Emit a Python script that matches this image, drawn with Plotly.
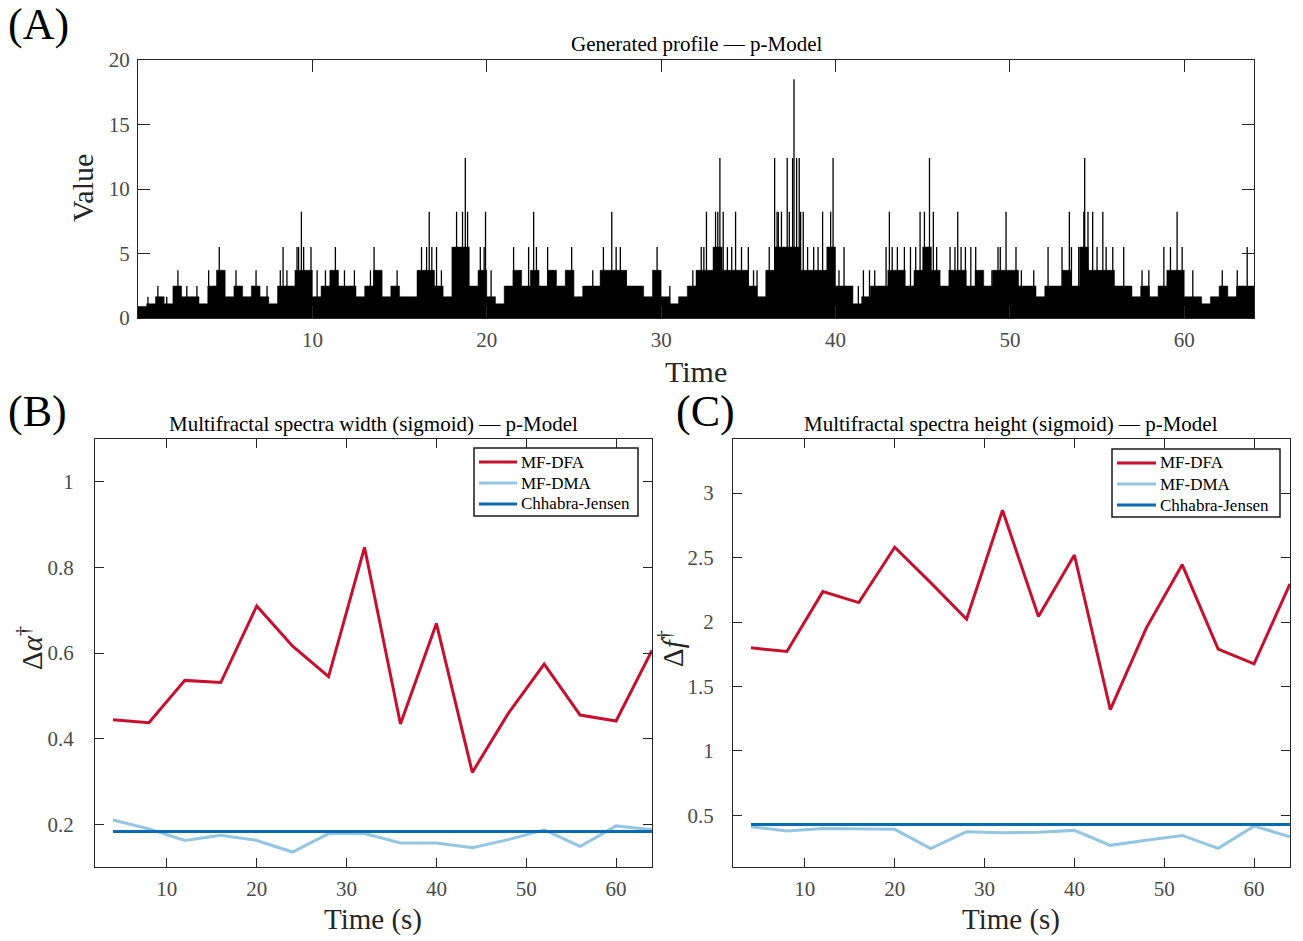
import plotly.graph_objects as go

W, H = 1303, 941

# ---------------- data ----------------
time_s = [4, 8, 12, 16, 20, 24, 28, 32, 36, 40, 44, 48, 52, 56, 60, 64]

width_mfdfa = [0.444, 0.437, 0.536, 0.531, 0.710, 0.616, 0.545, 0.847,
               0.434, 0.669, 0.321, 0.459, 0.574, 0.455, 0.441, 0.606]
width_mfdma = [0.210, 0.189, 0.162, 0.174, 0.162, 0.135, 0.178, 0.178,
               0.156, 0.156, 0.145, 0.164, 0.187, 0.148, 0.196, 0.187]
width_cj = [0.183, 0.183, 0.183, 0.183, 0.183, 0.183, 0.183, 0.183,
            0.183, 0.183, 0.183, 0.183, 0.183, 0.183, 0.183, 0.183]

height_mfdfa = [1.800, 1.772, 2.236, 2.151, 2.580, 2.306, 2.022, 2.868,
                2.043, 2.520, 1.320, 1.953, 2.445, 1.790, 1.676, 2.296]
height_mfdma = [0.413, 0.379, 0.399, 0.396, 0.392, 0.242, 0.374, 0.366,
                0.370, 0.384, 0.268, 0.307, 0.345, 0.245, 0.417, 0.335]
height_cj = [0.430, 0.430, 0.430, 0.430, 0.430, 0.430, 0.430, 0.430,
             0.430, 0.430, 0.430, 0.430, 0.430, 0.430, 0.430, 0.430]

series_names = ["MF-DFA", "MF-DMA", "Chhabra-Jensen"]

# generated profile: dense "body" level per 0.5 s bin
profile_bin = 0.5
profile_body = [
    0.9, 1.1, 1.65, 1.1, 2.48, 1.65, 1.65, 1.1, 2.48, 3.7, 1.65, 2.48, 1.65, 2.48, 1.65, 1.1,
    2.48, 2.48, 3.7, 3.7, 1.65, 2.48, 3.7, 2.48, 2.48, 1.65, 2.48, 3.7, 1.65, 2.48, 1.65, 1.65,
    3.7, 3.7, 2.48, 1.65, 5.5, 5.5, 2.48, 3.7, 1.65, 1.1, 2.48, 3.7, 2.48, 3.7, 2.48, 3.7,
    2.48, 3.7, 1.65, 2.48, 2.48, 3.7, 3.7, 3.7, 2.48, 2.48, 1.65, 3.7, 1.65, 1.1, 1.65, 2.48,
    3.7, 3.7, 5.5, 3.7, 3.7, 3.7, 2.48, 1.65, 3.7, 5.5, 5.5, 5.5, 3.7, 3.7, 3.7, 5.5,
    2.48, 2.48, 1.1, 1.65, 2.48, 2.48, 3.7, 3.7, 2.48, 3.7, 5.5, 3.7, 2.48, 3.7, 3.7, 2.48,
    3.7, 2.48, 3.7, 3.7, 3.7, 2.48, 2.48, 1.65, 2.48, 2.48, 3.7, 2.48, 5.5, 3.7, 3.7, 3.7,
    2.48, 2.48, 1.65, 2.48, 1.65, 2.48, 3.7, 3.7, 1.65, 1.65, 1.1, 1.65, 2.48, 1.65, 2.48, 2.48,
]

# individual spikes (time, peak value)
spike_t = [
    0.57, 1.14, 1.65, 2.29, 2.80, 3.38, 4.05, 4.66, 4.85, 5.62, 6.77, 7.40, 8.16, 8.32, 8.54,
    9.12, 9.21, 9.37, 9.50, 9.92, 10.27, 10.75, 11.32, 11.42, 11.84, 12.41, 13.33, 13.54,
    13.65, 14.86,
    16.26, 16.55, 16.70, 16.85, 17.12, 17.40, 18.27, 18.45, 18.61, 18.77, 18.90, 19.63,
    19.85, 19.93, 20.25, 21.54, 21.90, 22.40, 22.69, 22.85, 23.49, 23.75, 24.60, 24.87,
    26.08, 26.69, 27.17, 27.42, 27.66, 28.00, 29.60, 29.77, 30.50, 31.82, 32.10, 32.30,
    32.45, 32.60, 33.00, 33.12, 33.25, 33.37, 33.56, 33.80, 34.05, 34.27, 34.61, 35.00,
    35.30, 35.50, 36.20, 36.51, 36.65, 36.72, 36.90, 37.00, 37.23, 37.35, 37.54, 37.62,
    37.77, 37.92, 38.00, 38.15, 38.40, 38.75, 39.00, 39.26, 39.72, 39.86, 40.20, 40.49,
    41.31, 41.60, 41.95, 42.25, 42.90, 43.09, 43.25, 43.55, 43.95, 44.30, 44.60, 44.85,
    45.10, 45.39, 45.61, 45.80, 46.57, 46.85, 47.01, 47.20, 47.45, 47.76, 48.04,
    48.97, 49.32, 49.45, 49.78, 50.35, 50.66, 51.37, 52.19, 52.99, 53.41, 53.53, 53.95,
    54.24, 54.29, 54.48, 54.75, 55.00, 55.33, 55.52, 55.90, 56.53, 57.58, 57.97, 58.83,
    59.21, 59.59, 59.88, 60.49, 62.18, 63.04, 63.61,
]
spike_h = [
    1.65, 2.48, 1.65, 3.7, 2.48, 2.48, 3.7, 5.5, 3.7, 3.7, 3.7, 2.48, 3.7, 5.5, 3.7,
    5.5, 5.5, 8.24, 5.5, 5.5, 3.7, 3.7, 5.5, 3.7, 3.7, 3.7, 3.7, 5.5,
    3.7, 3.7,
    5.5, 5.5, 8.24, 5.5, 5.5, 3.7, 8.24, 5.5, 8.24, 12.4, 8.24, 5.5,
    5.5, 8.24, 3.7, 5.5, 3.7, 5.5, 8.24, 5.5, 5.5, 3.7, 3.7, 5.5,
    3.7, 5.5, 8.24, 5.5, 5.5, 3.7, 3.7, 5.5, 2.48, 3.7, 3.7, 5.5,
    5.5, 8.24, 5.5, 8.24, 8.24, 12.4, 8.24, 5.5, 5.5, 8.24, 5.5, 5.5,
    3.7, 3.7, 5.5, 12.4, 8.24, 8.24, 8.24, 5.5, 12.4, 8.24, 12.4, 18.5,
    12.4, 12.4, 8.24, 8.24, 5.5, 5.5, 5.5, 8.24, 8.24, 12.4, 3.7, 5.5,
    2.48, 3.7, 3.7, 3.7, 5.5, 8.24, 5.5, 5.5, 5.5, 5.5, 5.5, 8.24,
    8.24, 12.4, 8.24, 5.5, 5.5, 5.5, 8.24, 5.5, 5.5, 5.5, 5.5,
    3.7, 5.5, 5.5, 8.24, 5.5, 3.7, 3.7, 5.5, 5.5, 8.24, 5.5, 5.5,
    8.24, 12.4, 8.24, 8.24, 5.5, 8.24, 5.5, 5.5, 5.5, 3.7, 3.7, 5.5,
    5.5, 8.24, 5.5, 3.7, 3.7, 3.7, 5.5,
]

x_ticks_a = [10, 20, 30, 40, 50, 60]
y_ticks_a = [0, 5, 10, 15, 20]
x_ticks_bc = [10, 20, 30, 40, 50, 60]
y_ticks_b = [0.2, 0.4, 0.6, 0.8, 1.0]
y_ticklabels_b = ["0.2", "0.4", "0.6", "0.8", "1"]
y_ticks_c = [0.5, 1, 1.5, 2, 2.5, 3]
y_ticklabels_c = ["0.5", "1", "1.5", "2", "2.5", "3"]

# ---------------- styling ----------------
RED = "#C8102E"
LIGHT = "#93C6E2"
DARK = "#0B6CB3"
COLORS = [RED, LIGHT, DARK]
AX = "#262626"
FONT = "Liberation Serif"


def px(x):
    return x / W


def py(y):
    return 1 - y / H


fig = go.Figure()

# profile body (step fill)
body_x = [i * profile_bin for i in range(len(profile_body))] + [len(profile_body) * profile_bin]
body_y = profile_body + [profile_body[-1]]
fig.add_trace(go.Scatter(x=body_x, y=body_y, mode="lines", line=dict(color="black", width=0.5, shape="hv"),
                         fill="tozeroy", fillcolor="black", showlegend=False, xaxis="x", yaxis="y",
                         hoverinfo="skip"))
sx, sy = [], []
for t, h in zip(spike_t, spike_h):
    sx += [t, t, None]
    sy += [0, h, None]
fig.add_trace(go.Scatter(x=sx, y=sy, mode="lines", line=dict(color="black", width=1.3),
                         showlegend=False, xaxis="x", yaxis="y", hoverinfo="skip"))

# panel B
for name, vals, col in zip(series_names, [width_mfdfa, width_mfdma, width_cj], COLORS):
    fig.add_trace(go.Scatter(x=time_s, y=vals, mode="lines", name=name, line=dict(color=col, width=3),
                             xaxis="x2", yaxis="y2", showlegend=False))
# panel C
for name, vals, col in zip(series_names, [height_mfdfa, height_mfdma, height_cj], COLORS):
    fig.add_trace(go.Scatter(x=time_s, y=vals, mode="lines", name=name, line=dict(color=col, width=3),
                             xaxis="x3", yaxis="y3", showlegend=False))

axis_common = dict(showline=True, linecolor=AX, linewidth=1.2, mirror="allticks", ticks="inside",
                   tickcolor=AX, tickwidth=1.2, showgrid=False, zeroline=False, automargin=False,
                   tickfont=dict(family=FONT, size=21, color="#4a4a4a"))

fig.update_layout(
    width=W, height=H, margin=dict(l=0, r=0, t=0, b=0, autoexpand=False),
    paper_bgcolor="white", plot_bgcolor="white", showlegend=False,
    xaxis=dict(domain=[px(138), px(1254)], range=[0, 64], tickvals=x_ticks_a, anchor="y",
               ticklen=12, ticklabelstandoff=3, **axis_common),
    yaxis=dict(domain=[py(318), py(60)], range=[0, 20], tickvals=y_ticks_a, anchor="x",
               ticklen=12, ticklabelstandoff=3, **axis_common),
    xaxis2=dict(domain=[px(95), px(652)], range=[2, 64], tickvals=x_ticks_bc, anchor="y2",
                ticklen=9, ticklabelstandoff=3, **axis_common),
    yaxis2=dict(domain=[py(867), py(439)], range=[0.1, 1.1], tickvals=y_ticks_b,
                ticktext=y_ticklabels_b, anchor="x2", ticklen=9, ticklabelstandoff=16, **axis_common),
    xaxis3=dict(domain=[px(733), px(1290)], range=[2, 64], tickvals=x_ticks_bc, anchor="y3",
                ticklen=9, ticklabelstandoff=3, **axis_common),
    yaxis3=dict(domain=[py(867), py(439)], range=[0.1, 3.42], tickvals=y_ticks_c,
                ticktext=y_ticklabels_c, anchor="x3", ticklen=9, ticklabelstandoff=14, **axis_common),
)

ann = []
shapes = []


def text(x, y, s, size, angle=0, color="black", xanchor="center"):
    ann.append(dict(x=px(x), y=py(y), xref="paper", yref="paper", text=s, showarrow=False,
                    xanchor=xanchor, yanchor="middle", textangle=angle,
                    font=dict(family=FONT, size=size, color=color)))


# manual legends (box, line samples, labels)
def legend(x0, x1, y0, y1, line_x0, line_x1, text_x, rows):
    shapes.append(dict(type="rect", xref="paper", yref="paper", x0=px(x0), x1=px(x1),
                       y0=py(y1), y1=py(y0), line=dict(color="#1a1a1a", width=1.5),
                       fillcolor="white", layer="above"))
    for yy, name, col in zip(rows, series_names, COLORS):
        shapes.append(dict(type="line", xref="paper", yref="paper", x0=px(line_x0), x1=px(line_x1),
                           y0=py(yy), y1=py(yy), line=dict(color=col, width=3), layer="above"))
        text(text_x, yy, name, 17, xanchor="left")


legend(474, 638, 448, 516, 479, 517, 519, [462, 483, 504])
legend(1112, 1280, 449, 517, 1117, 1156, 1158, [463, 484, 505])

text(38, 24, "(A)", 44)
text(37, 411, "(B)", 44)
text(705, 411, "(C)", 44)
text(696, 44, "Generated profile — p-Model", 21)
text(373, 424, "Multifractal spectra width (sigmoid) — p-Model", 21)
text(1011, 424, "Multifractal spectra height (sigmoid) — p-Model", 21)
text(696, 371, "Time", 30, color="#262626")
text(82, 188, "Value", 30, angle=-90, color="#262626")
text(373, 919, "Time (s)", 29, color="#262626")
text(1011, 919, "Time (s)", 29, color="#262626")
text(30, 648, "Δ<i>α</i><sup>†</sup>", 29, angle=-90, color="#262626")
text(671, 648, "Δ<i>f</i><sup>†</sup>", 29, angle=-90, color="#262626")

fig.update_layout(annotations=ann, shapes=shapes)
fig.write_html("out.html")
